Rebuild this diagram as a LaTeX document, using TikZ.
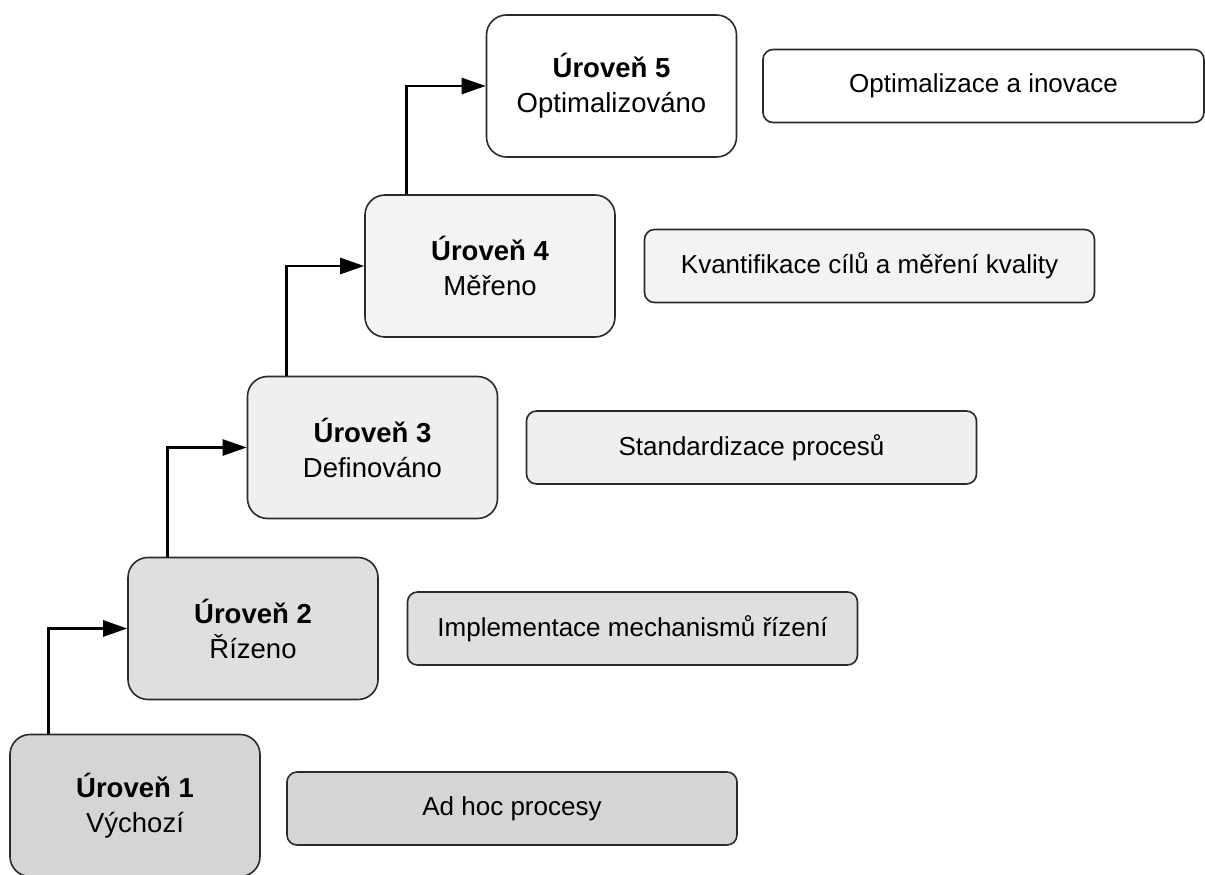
\documentclass[tikz,border=0pt]{standalone}
\usepackage{fontspec}
\setmainfont{Liberation Sans}
\usetikzlibrary{arrows.meta,calc}
\definecolor{fillA}{HTML}{D5D5D5}
\definecolor{fillB}{HTML}{DFDFDF}
\definecolor{fillC}{HTML}{EFEFEF}
\definecolor{fillD}{HTML}{F3F3F3}
\definecolor{fillE}{HTML}{FFFFFF}
\definecolor{edge}{HTML}{2A2A2A}
\tikzset{
  levelbox/.style={draw=edge, line width=1.6pt, rounded corners=20pt,
    minimum width=250pt, minimum height=142pt, inner sep=0pt,
    align=center, font=\fontsize{27.5}{35}\selectfont},
  descbox/.style={draw=edge, line width=1.6pt, rounded corners=10pt,
    minimum width=450pt, minimum height=73pt, inner sep=0pt,
    align=center, font=\fontsize{26}{30}\selectfont},
  uparrow/.style={draw=black, line width=2.6pt,
    -{Triangle[length=24pt,width=16pt]}}
}
\begin{document}
\begin{tikzpicture}[x=1pt,y=-1pt]
  \useasboundingbox (0,0) rectangle (1205,875);

  % maturity levels
  \node[levelbox, fill=fillA] (L1) at (135,805.5) {\textbf{Úroveň 1}\\Výchozí};
  \node[levelbox, fill=fillB] (L2) at (253,628.5) {\textbf{Úroveň 2}\\Řízeno};
  \node[levelbox, fill=fillC] (L3) at (372.5,447.5) {\textbf{Úroveň 3}\\Definováno};
  \node[levelbox, fill=fillD] (L4) at (490,266) {\textbf{Úroveň 4}\\Měřeno};
  \node[levelbox, fill=fillE] (L5) at (611.5,86) {\textbf{Úroveň 5}\\Optimalizováno};

  % descriptions
  \node[descbox, fill=fillA] (D1) at (512,808.5) {Ad hoc procesy};
  \node[descbox, fill=fillB] (D2) at (632.5,628.5) {Implementace mechanismů řízení};
  \node[descbox, fill=fillC] (D3) at (751.5,447.5) {Standardizace procesů};
  \node[descbox, fill=fillD] (D4) at (869.5,266) {Kvantifikace cílů a měření kvality};
  \node[descbox, fill=fillE, minimum width=441pt] (D5) at (983.5,86) {Optimalizace a inovace};

  % step connectors
  \draw[uparrow] ($(L1.north west)+(39,0)$) |- (L2.west);
  \draw[uparrow] ($(L2.north west)+(40,0)$) |- (L3.west);
  \draw[uparrow] ($(L3.north west)+(40,0)$) |- (L4.west);
  \draw[uparrow] ($(L4.north west)+(42,0)$) |- (L5.west);
\end{tikzpicture}
\end{document}
